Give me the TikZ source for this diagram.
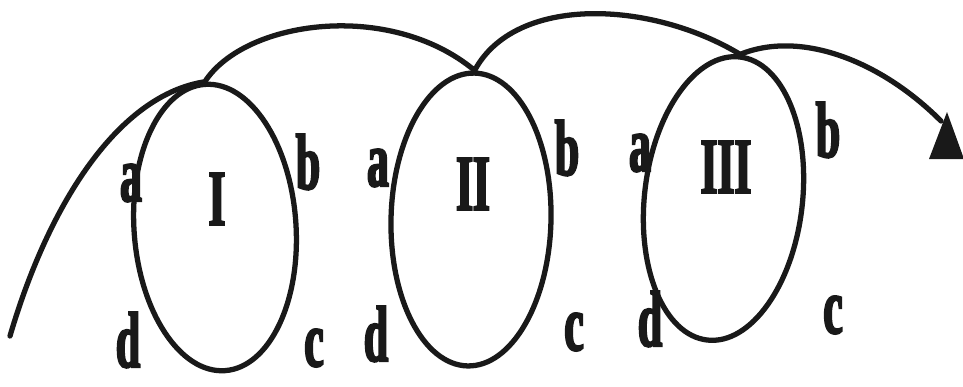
\documentclass[tikz,border=0pt]{standalone}
\usepackage{fontspec}
\usetikzlibrary{shapes.geometric}
\newfontfamily\lblfont{Liberation Serif}[FakeStretch=0.55, BoldFont={* Bold}, BoldFeatures={FakeStretch=0.55, FakeBold=2.5}]
\tikzset{
  ring/.style={draw=black!90, line width=3pt, ellipse, inner sep=0pt},
  lbl/.style={inner sep=0pt, text=black!90, font=\lblfont\bfseries\fontsize{45}{45}\selectfont},
  path line/.style={draw=black!90, line width=3pt, line cap=round},
}
\begin{document}
\begin{tikzpicture}[x=0.02cm, y=-0.02cm]
\useasboundingbox[fill=white] (0,0) rectangle (963,386);
% ellipses
\node[ring, minimum width=3.24cm, minimum height=5.74cm, rotate=4] (e1) at (215,227.5) {};
\node[ring, minimum width=3.2cm, minimum height=5.86cm, rotate=-1.4] (e2) at (471,219.5) {};
\node[ring, minimum width=3.16cm, minimum height=5.7cm, rotate=-6.6] (e3) at (723.5,198.5) {};
% labels
\node[lbl] (n1) at (217,199) {I};
\node[lbl] (n2) at (473,184) {II};
\node[lbl] (n3) at (726,167) {III};
\node[lbl] (a1) at (131,183) {a};
\node[lbl] (b1) at (308,162) {b};
\node[lbl] (c1) at (314,348) {c};
\node[lbl] (d1) at (128,340) {d};
\node[lbl] (a2) at (378,168) {a};
\node[lbl] (b2) at (567,148) {b};
\node[lbl] (c2) at (574,332) {c};
\node[lbl] (d2) at (376,334) {d};
\node[lbl] (a3) at (640,153) {a};
\node[lbl] (b3) at (828,130) {b};
\node[lbl] (c3) at (833,315) {c};
\node[lbl] (d3) at (650,319) {d};
% path
\coordinate (s) at (10,336);
\coordinate (tip) at (941,121);
\draw[path line] (s) .. controls (50,200) and (120,95) .. (e1.north)
  .. controls (245,20) and (390,0) .. (e2.north)
  .. controls (515,-5) and (650,0) .. (e3.north)
  .. controls (800,30) and (880,60) .. (tip);
\fill[black!90] (947,112) -- (964,159) -- (929,159) -- cycle;
\end{tikzpicture}
\end{document}
